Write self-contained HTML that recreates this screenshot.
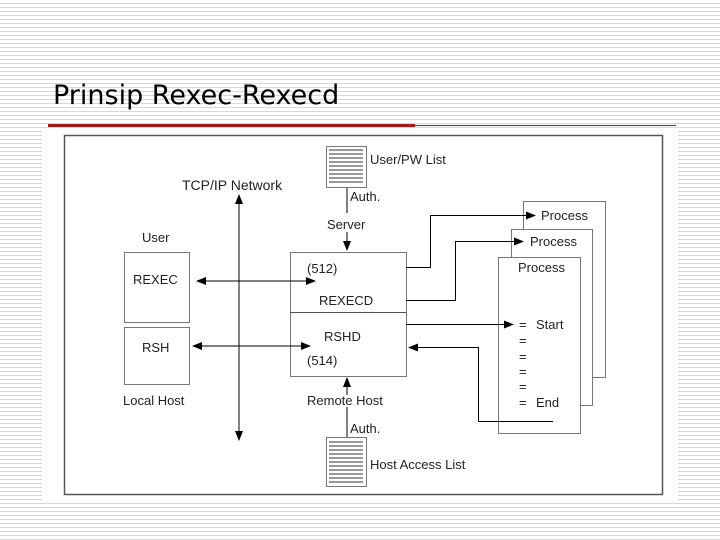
<!DOCTYPE html>
<html><head><meta charset="utf-8"><style>
html,body{margin:0;padding:0}
body{width:720px;height:540px;overflow:hidden;position:relative;background:#fff;
background-image:repeating-linear-gradient(to bottom,#fff 0,#fff 3px,#d8d8d8 3px,#d8d8d8 4px);}
.title{position:absolute;left:53px;top:80px;font-family:"DejaVu Sans",sans-serif;font-size:27px;color:#000;}
svg{position:absolute;left:0;top:0}
text{font-family:"Liberation Sans",sans-serif;font-size:13px;fill:#222}
</style></head><body>
<div class="title">Prinsip Rexec-Rexecd</div>
<svg width="720" height="540" viewBox="0 0 720 540">
<defs><marker id="a" markerWidth="10" markerHeight="8" refX="9" refY="4" orient="auto-start-reverse" markerUnits="userSpaceOnUse"><path d="M0,0L10,4L0,8z" fill="#000"/></marker></defs>
<rect x="48" y="124" width="367" height="3" fill="#a01c1c"/>
<rect x="415" y="125" width="261" height="1" fill="#a01c1c"/>
<rect x="42" y="128" width="636" height="372" fill="#fff"/>
<rect x="64.5" y="135.5" width="598" height="359" fill="none" stroke="#555" stroke-width="1.5"/>
<g fill="none" stroke="#777">
<rect x="326.5" y="146.5" width="40" height="41" fill="#fff"/>
<rect x="326.5" y="437.5" width="40" height="49" fill="#fff"/>
<rect x="124.5" y="252.5" width="65" height="70"/>
<rect x="124.5" y="327.5" width="65" height="57"/>
<rect x="290.5" y="252.5" width="116" height="124"/>
<rect x="523.5" y="201.5" width="82" height="176" fill="#fff"/>
<rect x="511.5" y="229.5" width="81" height="176" fill="#fff"/>
<rect x="498.5" y="257.5" width="82" height="176" fill="#fff"/>
</g>
<g stroke="#333">
<path d="M329 150h34M329 154h34M329 158h34M329 162h34M329 166h34M329 170h34M329 174h34M329 178h34M329 182h34"/>
<path d="M329 442h34M329 446h34M329 450h34M329 454h34M329 458h34M329 462h34M329 466h34M329 470h34M329 474h34M329 478h34M329 482h34"/>
</g>
<line x1="290" y1="312.5" x2="406" y2="312.5" stroke="#555"/>
<g stroke="#000" fill="none" stroke-width="1">
<line x1="347" y1="188" x2="347" y2="213"/>
<line x1="347" y1="232" x2="347" y2="250" marker-end="url(#a)"/>
<line x1="347" y1="395" x2="347" y2="378" marker-end="url(#a)"/>
<line x1="347" y1="407" x2="347" y2="437"/>
<line x1="239" y1="195" x2="239" y2="440" marker-start="url(#a)" marker-end="url(#a)"/>
<line x1="197" y1="281" x2="315" y2="281" marker-start="url(#a)" marker-end="url(#a)"/>
<line x1="193" y1="346" x2="310" y2="346" marker-start="url(#a)" marker-end="url(#a)"/>
<polyline points="406,267.5 430.5,267.5 430.5,215.5 535,215.5" marker-end="url(#a)"/>
<polyline points="406,300.5 455.5,300.5 455.5,241.5 523,241.5" marker-end="url(#a)"/>
<line x1="406" y1="324.5" x2="513" y2="324.5" marker-end="url(#a)"/>
<polyline points="553,421.5 478.5,421.5 478.5,347.5 409,347.5" marker-end="url(#a)"/>
</g>
<text x="370" y="164">User/PW List</text>
<text x="350" y="201">Auth.</text>
<text x="327" y="229">Server</text>
<text x="182" y="190" style="font-size:14px">TCP/IP Network</text>
<text x="142" y="242">User</text>
<text x="133" y="284">REXEC</text>
<text x="142" y="352">RSH</text>
<text x="123" y="405">Local Host</text>
<text x="307" y="273">(512)</text>
<text x="319" y="305">REXECD</text>
<text x="324" y="341">RSHD</text>
<text x="307" y="365">(514)</text>
<text x="307" y="405">Remote Host</text>
<text x="350" y="433">Auth.</text>
<text x="370" y="469">Host Access List</text>
<text x="541" y="220">Process</text>
<text x="530" y="246">Process</text>
<text x="518" y="272">Process</text>
<text x="519" y="329">=</text><text x="536" y="329">Start</text>
<text x="519" y="345">=</text>
<text x="519" y="361">=</text>
<text x="519" y="376">=</text>
<text x="519" y="391">=</text>
<text x="519" y="407">=</text><text x="536" y="407">End</text>
</svg>
</body></html>
